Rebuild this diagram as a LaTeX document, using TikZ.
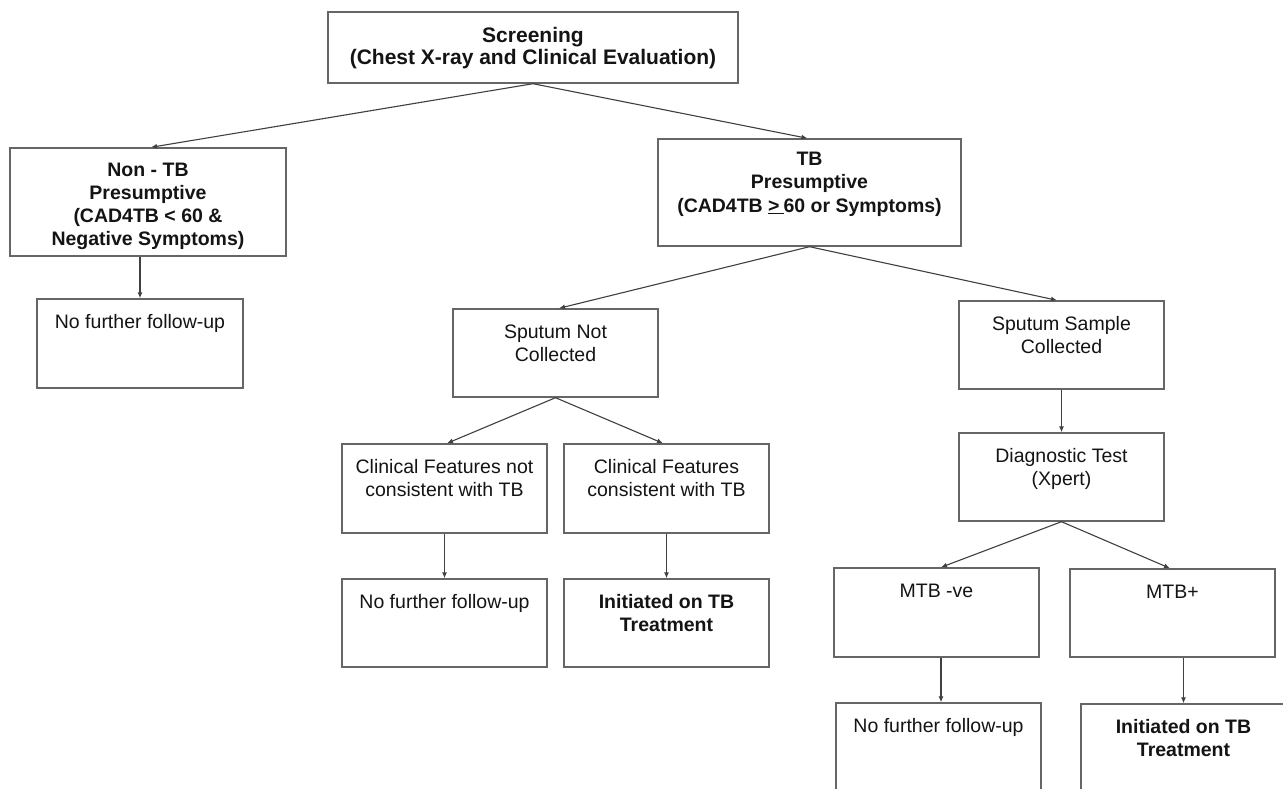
\documentclass[tikz,border=0pt]{standalone}
\usepackage{fontspec}
\setmainfont{Liberation Sans}
\usetikzlibrary{arrows.meta}
\definecolor{boxgray}{HTML}{666666}
\definecolor{arrgray}{HTML}{404040}
\definecolor{txt}{HTML}{141414}
\newcommand\bxt[4]{\parbox[c][#2pt][t]{#1pt}{\centering\rule{0pt}{#3pt}#4\par}}
\begin{document}
\begin{tikzpicture}[x=1pt,y=-1pt,
 box/.style={draw=boxgray,line width=1.4pt,inner sep=0pt,text=txt,font=\fontsize{19.5pt}{23pt}\selectfont},
 bbox/.style={box,font=\fontsize{19.5pt}{23pt}\selectfont\bfseries},
 arr/.style={draw=arrgray,line width=1.1pt,-{Latex[length=6pt,width=5pt]}}]
\clip (0,0) rectangle (1283,789);
\fill[white] (0,0) rectangle (1283,789);
% nodes
\node[bbox,font=\fontsize{21pt}{21.5pt}\selectfont\bfseries] (scr) at (533,47.5) {\bxt{410}{71}{31}{Screening\\(Chest X-ray and Clinical Evaluation)}};
\node[bbox] (ntb) at (148,202) {\bxt{276}{108}{28}{Non - TB\\Presumptive\\(CAD4TB < 60 \&\\Negative Symptoms)}};
\node[box] (nf1) at (140,343.5) {\bxt{206}{89}{29}{No further follow-up}};
\node[bbox] (tb) at (809.5,192.5) {\bxt{303}{107}{27}{TB\\Presumptive\\(CAD4TB \underline{>\hspace{0.2em}}60 or Symptoms)}};
\node[box] (snc) at (555.5,353) {\bxt{205}{88}{29}{Sputum Not\\Collected}};
\node[box] (ssc) at (1061.5,345) {\bxt{205}{88}{29}{Sputum Sample\\Collected}};
\node[box] (cn) at (444.5,488.5) {\bxt{205}{89}{29}{Clinical Features not\\consistent with TB}};
\node[box] (cc) at (666.5,488.5) {\bxt{205}{89}{29}{Clinical Features\\consistent with TB}};
\node[box] (nf2) at (444.5,623) {\bxt{205}{88}{29}{No further follow-up}};
\node[bbox] (in1) at (666.5,623) {\bxt{205}{88}{29}{Initiated on TB\\Treatment}};
\node[box] (dt) at (1061.5,477) {\bxt{205}{88}{29}{Diagnostic Test\\(Xpert)}};
\node[box] (mneg) at (936.5,612.5) {\bxt{205}{89}{29}{MTB -ve}};
\node[box] (mpos) at (1172.5,613) {\bxt{205}{88}{29}{MTB+}};
\node[box] (nf3) at (938.5,747.5) {\bxt{205}{89}{29}{No further follow-up}};
\node[bbox] (in2) at (1183.5,748.5) {\bxt{205}{89}{29}{Initiated on TB\\Treatment}};
% connectors
\draw[arr] (scr.south) -- ([xshift=3pt]ntb.north);
\draw[arr] (scr.south) -- ([xshift=-2pt]tb.north);
\draw[arr] (nf1.north |- ntb.south) -- (nf1.north);
\draw[arr] (tb.south) -- ([xshift=3.5pt]snc.north);
\draw[arr] (tb.south) -- ([xshift=-4.5pt]ssc.north);
\draw[arr] (snc.south) -- ([xshift=2.5pt]cn.north);
\draw[arr] (snc.south) -- ([xshift=-3.5pt]cc.north);
\draw[arr] (cn.south) -- (nf2.north);
\draw[arr] (cc.south) -- (in1.north);
\draw[arr] (ssc.south) -- (dt.north);
\draw[arr] (dt.south) -- ([xshift=4.5pt]mneg.north);
\draw[arr] (dt.south) -- ([xshift=-2.5pt]mpos.north);
\draw[arr] ([xshift=4.5pt]mneg.south) -- ([xshift=4.5pt]mneg.south |- nf3.north);
\draw[arr] (in2.north |- mpos.south) -- (in2.north);
\end{tikzpicture}
\end{document}
